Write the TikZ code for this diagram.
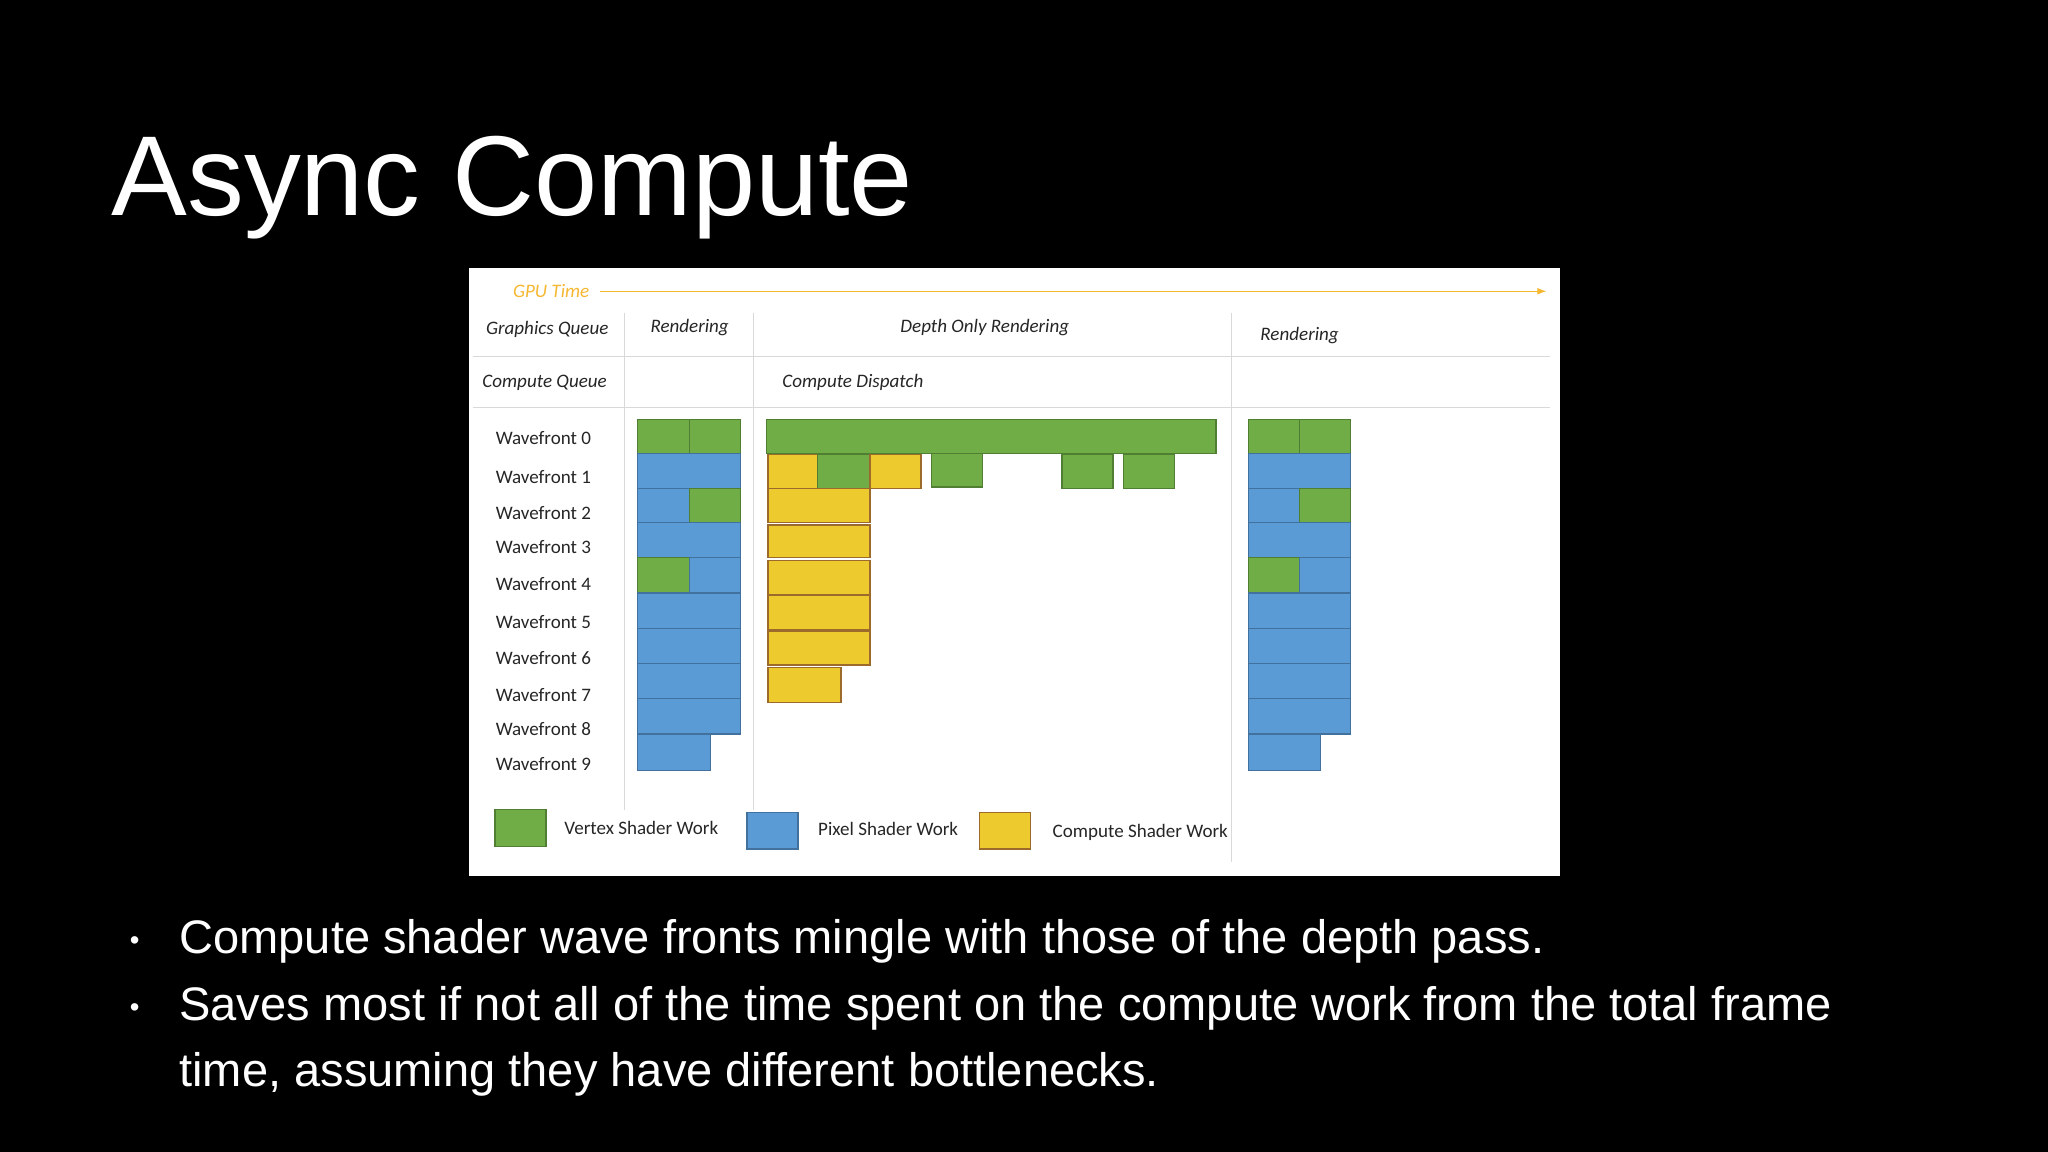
\documentclass[tikz,border=0pt]{standalone}
\usepackage{fontspec}
\setmainfont{Liberation Sans}
\newfontfamily\diag{Carlito}
\usetikzlibrary{arrows.meta}
\definecolor{vgreen}{HTML}{70AD47}
\definecolor{vgreenb}{HTML}{507E32}
\definecolor{pblue}{HTML}{5B9BD5}
\definecolor{pblueb}{HTML}{41719C}
\definecolor{cyel}{HTML}{EDCB2E}
\definecolor{cyelb}{HTML}{9C6A2A}
\definecolor{gtime}{HTML}{F5B830}
\definecolor{grid}{HTML}{D9D9D9}
\tikzset{
 gb/.style={fill=vgreen,draw=vgreenb,line width=0.6pt},
 bb/.style={fill=pblue,draw=pblueb,line width=0.6pt},
 yb/.style={fill=cyel,draw=cyelb,line width=0.6pt},
 lab/.style={font=\diag\fontsize{8.3}{10}\selectfont,text=black!85,inner sep=0pt},
 hdr/.style={font=\diag\itshape\fontsize{8.3}{10}\selectfont,text=black!85,inner sep=0pt},
 bul/.style={font=\fontsize{20.5}{24}\selectfont,text=white,anchor=base west,inner sep=0pt},
 gridl/.style={draw=grid,line width=0.5pt}
}
\begin{document}
\begin{tikzpicture}[x=0.02cm,y=-0.02cm]
\fill[black] (0,0) rectangle (1568,882);
\useasboundingbox (0,0) rectangle (1568,882);
\node[font=\fontsize{49.5}{56}\selectfont,text=white,anchor=base west,inner sep=0pt] (title) at (85,165) {Async Compute};
\fill[white] (359,205) rectangle (1194,671);
% time axis
\node[hdr,text=gtime] (gpu) at (422,223) {GPU Time};
\coordinate (tend) at (1184,223);
\draw[gtime,line width=0.5pt,-{Latex[length=4pt]}] (gpu.east)+(8,0) -- (tend);
% grid
\draw[gridl] (478,240) -- (478,620);
\draw[gridl] (577,240) -- (577,620);
\draw[gridl] (943,240) -- (943,660);
\draw[gridl] (362,273) -- (1187,273);
\draw[gridl] (362,312) -- (1187,312);
% headers
\node[hdr] (gq) at (419,252) {Graphics Queue};
\node[hdr] (r1) at (528,251) {Rendering};
\node[hdr] (dor) at (754,251) {Depth Only Rendering};
\node[hdr] (r2) at (995,257) {Rendering};
\node[hdr] (cq) at (417,293) {Compute Queue};
\node[hdr] (cd) at (653,293) {Compute Dispatch};
% wavefront labels
\foreach \i/\y in {0/335,1/365,2/393,3/419,4/447,5/476,6/504,7/532,8/558,9/585}
  \node[lab] (wf\i) at (416,\y) {Wavefront \i};
% left and right groups
\foreach \xa/\xm/\xb/\xs in {488/528/567/544, 956/995/1034/1011}{
  \draw[gb] (\xa,321) rectangle (\xm,347);
  \draw[gb] (\xm,321) rectangle (\xb,347);
  \draw[bb] (\xa,347) rectangle (\xb,374);
  \draw[bb] (\xa,374) rectangle (\xm,400);
  \draw[gb] (\xm,374) rectangle (\xb,400);
  \draw[bb] (\xa,400) rectangle (\xb,427);
  \draw[gb] (\xa,427) rectangle (\xm,454);
  \draw[bb] (\xm,427) rectangle (\xb,454);
  \draw[bb] (\xa,454) rectangle (\xb,481);
  \draw[bb] (\xa,481) rectangle (\xb,508);
  \draw[bb] (\xa,508) rectangle (\xb,535);
  \draw[bb] (\xa,535) rectangle (\xb,562);
  \draw[bb] (\xa,562) rectangle (\xs,590);
}
% middle
\draw[gb] (587,321) rectangle (931,347);
\draw[yb] (588,348) rectangle (626,374);
\draw[gb] (626,348) rectangle (666,374);
\draw[yb] (666,348) rectangle (705,374);
\draw[gb] (713,347) rectangle (752,373);
\draw[gb] (813,348) rectangle (852,374);
\draw[gb] (860,348) rectangle (899,374);
\foreach \ya/\yb in {374/400,402/427,429/455,456/482,483/509}
  \draw[yb] (588,\ya) rectangle (666,\yb);
\draw[yb] (588,511) rectangle (644,538);
% legend
\draw[gb] (379,620) rectangle (418,648);
\node[lab] (lv) at (491,634) {Vertex Shader Work};
\draw[bb] (572,622) rectangle (611,650);
\node[lab] (lp) at (680,635) {Pixel Shader Work};
\draw[yb] (750,622) rectangle (789,650);
\node[lab] (lc) at (873,637) {Compute Shader Work};
% bullets
\node[bul] (d1) at (99,727) {\fontsize{12}{14}\selectfont•};
\node[bul] (d2) at (99,778) {\fontsize{12}{14}\selectfont•};
\node[bul] (b1) at (137,730) {Compute shader wave fronts mingle with those of the depth pass.};
\node[bul] (b2) at (137,781) {Saves most if not all of the time spent on the compute work from the total frame};
\node[bul] (b3) at (137,832) {time, assuming they have different bottlenecks.};
\end{tikzpicture}
\end{document}
